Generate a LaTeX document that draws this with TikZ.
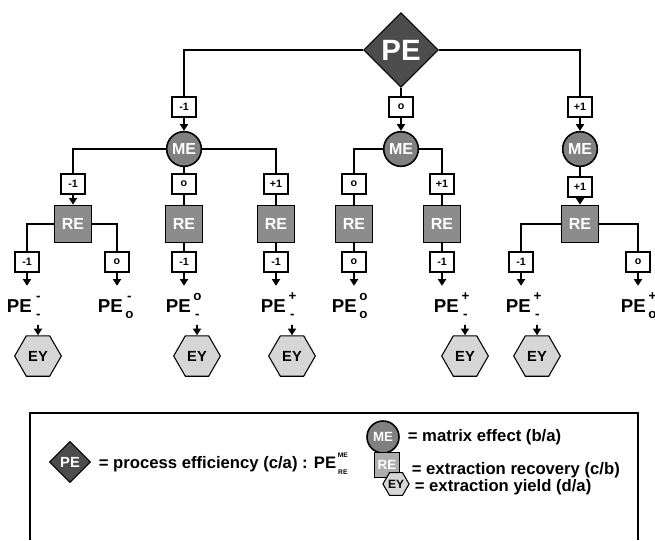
\documentclass[tikz,border=0pt]{standalone}
\usepackage{fontspec}
\setmainfont{Liberation Sans}
\usetikzlibrary{shapes.geometric,arrows.meta}

\definecolor{pefill}{gray}{0.30}
\definecolor{mefill}{gray}{0.50}
\definecolor{refill}{gray}{0.55}
\definecolor{relgd}{gray}{0.68}
\definecolor{eyfill}{gray}{0.84}

% stacked scripts behind a PE
\newcommand{\pescr}[3][10]{\kern1pt\makebox[8pt]{\makebox[0pt]{\raisebox{8.5pt}{\fontsize{#1}{#1}\selectfont#2}}\makebox[0pt]{\raisebox{-4.5pt}{\fontsize{#1}{#1}\selectfont#3}}}}

\tikzset{
    eff/.style={diamond,draw,fill=pefill,text=white,inner sep=0,minimum size=56pt,line width=0.8pt,font=\fontsize{22}{22}\selectfont\bfseries},
    mat/.style={circle,draw,fill=mefill,text=white,inner sep=0,minimum size=26pt,line width=1.2pt,font=\fontsize{12}{12}\selectfont\bfseries},
    rec/.style={rectangle,draw,fill=refill,text=white,inner sep=0,minimum size=28pt,line width=1pt,font=\fontsize{12}{12}\selectfont\bfseries},
    yld/.style={regular polygon,regular polygon sides=6,draw,fill=eyfill,inner sep=0,minimum size=35pt,line width=0.8pt,font=\fontsize{11}{11}\selectfont\bfseries},
    lvl/.style={rectangle,draw,fill=white,inner sep=0,minimum width=18pt,minimum height=15pt,line width=0.8pt,font=\fontsize{8}{8}\selectfont\bfseries},
    res/.style={anchor=base west,inner sep=0,text height=19pt,text depth=9pt,font=\fontsize{14}{14}\selectfont\bfseries},
    txt/.style={anchor=west,inner sep=0,font=\fontsize{12.5}{14}\selectfont\bfseries},
    bold/.style={line width=1.3pt},
    tip/.style={-{Triangle[length=5pt,width=6pt]}}
    }

\begin{document}
\begin{tikzpicture}[x=0.75pt,y=-0.75pt,bold]
\useasboundingbox (0,0) rectangle (655,540);
                % The Tree
                \node(0)[eff] at (401,50) {PE};
                \node(1)[lvl] at (184,107) {-1};
                \node(2)[lvl] at (401,107) {o};
                \node(3)[lvl] at (580,107) {+1};
                \node(1me)[mat] at (184,149) {ME};
                \node(2me)[mat] at (401,149) {ME};
                \node(3me)[mat] at (580,149) {ME};
                \node(11)[lvl] at (73,184) {-1};
                \node(12)[lvl] at (184,184) {o};
                \node(13)[lvl] at (276,184) {+1};
                \node(21)[lvl] at (354,184) {o};
                \node(22)[lvl] at (442,184) {+1};
                \node(31)[lvl] at (580,187) {+1};
                \node(11re)[rec] at (73,224) {RE};
                \node(12re)[rec] at (184,224) {RE};
                \node(13re)[rec] at (276,224) {RE};
                \node(21re)[rec] at (354,224) {RE};
                \node(22re)[rec] at (442,224) {RE};
                \node(31re)[rec] at (580,224) {RE};
                \node(111)[lvl] at (27,262) {-1};
                \node(112)[lvl] at (117,262) {o};
                \node(121)[lvl] at (184,262) {-1};
                \node(131)[lvl] at (276,262) {-1};
                \node(211)[lvl] at (354,262) {o};
                \node(221)[lvl] at (442,262) {-1};
                \node(311)[lvl] at (521,262) {-1};
                \node(312)[lvl] at (638,262) {o};
                \node(111pe)[res] at (6,312) {PE\pescr{-}{-}};
                \node(112pe)[res] at (97,312) {PE\pescr{-}{o}};
                \node(121pe)[res] at (165,312) {PE\pescr{o}{-}};
                \node(131pe)[res] at (260,312) {PE\pescr{+}{-}};
                \node(211pe)[res] at (331,312) {PE\pescr{o}{o}};
                \node(221pe)[res] at (433,312) {PE\pescr{+}{-}};
                \node(311pe)[res] at (505,312) {PE\pescr{+}{-}};
                \node(312pe)[res] at (620,312) {PE\pescr{+}{o}};
                \node(111ey)[yld] at (38,356) {EY};
                \node(121ey)[yld] at (197,356) {EY};
                \node(131ey)[yld] at (292,356) {EY};
                \node(221ey)[yld] at (465,356) {EY};
                \node(311ey)[yld] at (537,356) {EY};

                \draw (0.west) -| (1);
                \draw (0) -- (2);
                \draw (0.east) -| (3);
                \draw[tip] (1) -- (1me);
                \draw[tip] (2) -- (2me);
                \draw[tip] (3) -- (3me);
                \draw (1me.west) -| (11);
                \draw (1me) -- (12);
                \draw (1me.east) -| (13);
                \draw (2me.west) -| (21);
                \draw (2me.east) -| (22);
                \draw (3me) -- (31);
                \draw[tip] (11) -- (11re);
                \draw (12) -- (12re);
                \draw (13) -- (13re);
                \draw (21) -- (21re);
                \draw (22) -- (22re);
                \draw[tip] (31) -- (31re);
                \draw (11re.west) -| (111);
                \draw (11re.east) -| (112);
                \draw (12re) -- (121);
                \draw (13re) -- (131);
                \draw (21re) -- (211);
                \draw (22re) -- (221);
                \draw (31re.west) -| (311);
                \draw (31re.east) -| (312);
                \foreach \n in {111,112,121,131,211,221,311,312}
                    \draw[tip] (\n) -- (\n |- \n pe.north);
                \foreach \n in {111,121,131,221,311}
                    \draw[tip] (\n ey |- \n pe.south) -- (\n ey);

                % The Legend
                \draw (30,540) -- (30,413) -- (638,413) -- (638,540);
                \node(lpe)[eff,minimum size=31pt,font=\fontsize{11}{11}\selectfont\bfseries] at (70,462) {PE};
                \node(lpet)[txt] at (98,464) {= process efficiency (c/a) : PE\pescr[5]{ME}{RE}};
                \node(lme)[mat,minimum size=24pt,font=\fontsize{10}{10}\selectfont\bfseries] at (383,437) {ME};
                \node(lmet)[txt] at (407,437) {= matrix effect (b/a)};
                \node(lre)[rec,fill=relgd,minimum size=19pt,font=\fontsize{10}{10}\selectfont\bfseries] at (387,465) {RE};
                \node(lret)[txt] at (411,470) {= extraction recovery (c/b)};
                \node(ley)[yld,minimum size=16pt,font=\fontsize{9}{9}\selectfont\bfseries] at (396,484) {EY};
                \node(leyt)[txt] at (414,487) {= extraction yield (d/a)};
\end{tikzpicture}
\end{document}
